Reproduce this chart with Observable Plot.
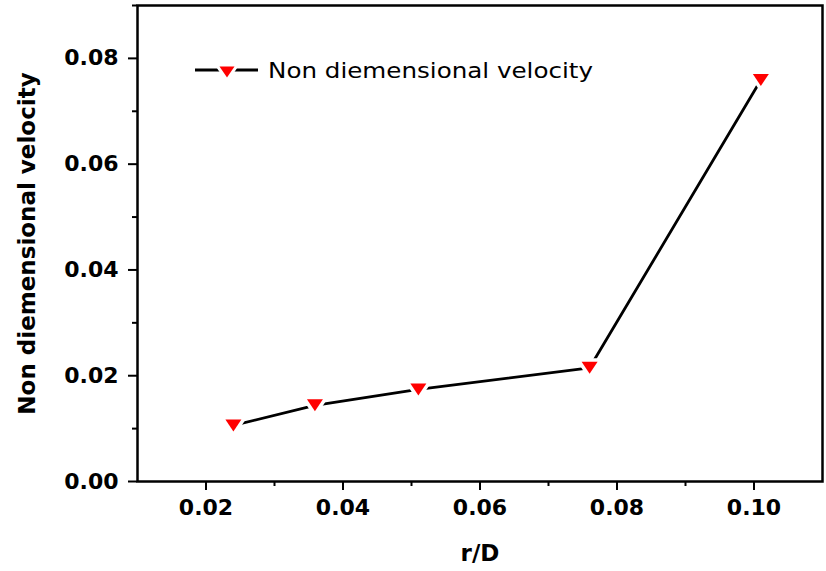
<!DOCTYPE html>
<html><head><meta charset="utf-8">
<script src="https://cdn.jsdelivr.net/npm/d3@7"></script>
<script src="https://cdn.jsdelivr.net/npm/@observablehq/plot@0.6"></script>
<style>
body{margin:0;background:#fff}
#wrap{position:relative;width:826px;height:571px}
#legend{position:absolute;left:0;top:0;pointer-events:none}
</style>
</head><body><div id="wrap"></div>
<script>
const rD = [0.024, 0.0359, 0.051, 0.076, 0.101];
const velocity = [0.0106, 0.0144, 0.0174, 0.0215, 0.0759];
const xTicks = [0.02, 0.04, 0.06, 0.08, 0.10];
const xMinor = [0.03, 0.05, 0.07, 0.09];
const yTicks = [0, 0.02, 0.04, 0.06, 0.08];
const yMinor = [0.01, 0.03, 0.05, 0.07, 0.09];
const seriesName = "Non diemensional velocity";
const xLabel = "r/D";
const yLabel = "Non diemensional velocity";

const data = rD.map((x, i) => ({x, y: velocity[i]}));
const downTri = {draw(ctx) { ctx.moveTo(-8, -6); ctx.lineTo(8, -6); ctx.lineTo(0, 6); ctx.closePath(); }};
const fmt = d3.format(".2f");

const plot = Plot.plot({
  width: 826, height: 571,
  marginLeft: 137, marginRight: 4, marginTop: 5, marginBottom: 90,
  x: {domain: [0.01, 0.11]},
  y: {domain: [0, 0.09]},
  style: {fontFamily: "'DejaVu Sans', sans-serif", fontWeight: "bold", fontSize: "22px", color: "#000", background: "#fff"},
  marks: [
    Plot.axisX(xMinor, {tickSize: 5, tickFormat: () => "", label: null, strokeWidth: 2}),
    Plot.axisY(yMinor, {tickSize: 5, tickFormat: () => "", label: null, strokeWidth: 2}),
    Plot.axisX(xTicks, {tickSize: 9, tickPadding: 9, tickFormat: fmt, label: xLabel, labelAnchor: "center", labelArrow: "none", labelOffset: 79, strokeWidth: 2}),
    Plot.axisY(yTicks, {tickSize: 9, tickPadding: 10, tickFormat: fmt, label: yLabel, labelAnchor: "center", labelArrow: "none", labelOffset: 119, strokeWidth: 2}),
    Plot.frame({strokeWidth: 2.5}),
    Plot.line(data, {x: "x", y: "y", stroke: "#000", strokeWidth: 2.8}),
    Plot.dot(data, {x: "x", y: "y", symbol: downTri, fill: "#ff0000", stroke: "#fff", strokeWidth: 7, paintOrder: "stroke", strokeLinejoin: "round"})
  ]
});
d3.select(plot).selectAll('g[aria-label$="axis label"] text').attr("font-size", 23);
document.getElementById("wrap").appendChild(plot);

// legend overlay
const lg = d3.select("#wrap").append("svg").attr("id", "legend").attr("width", 826).attr("height", 571);
lg.append("line").attr("x1", 195).attr("x2", 258).attr("y1", 70).attr("y2", 70).attr("stroke", "#000").attr("stroke-width", 2.8);
lg.append("path").attr("d", "M-7.5,-5.5L7.5,-5.5L0,5.5Z").attr("transform", "translate(227,72)")
  .attr("fill", "#ff0000").attr("stroke", "#fff").attr("stroke-width", 6).attr("paint-order", "stroke").attr("stroke-linejoin", "round");
lg.append("text").attr("x", 268).attr("y", 78).attr("font-family", "'DejaVu Sans', sans-serif").attr("font-size", 21)
  .attr("textLength", 325).attr("lengthAdjust", "spacingAndGlyphs").attr("fill", "#000").text(seriesName);
</script>
</body></html>
